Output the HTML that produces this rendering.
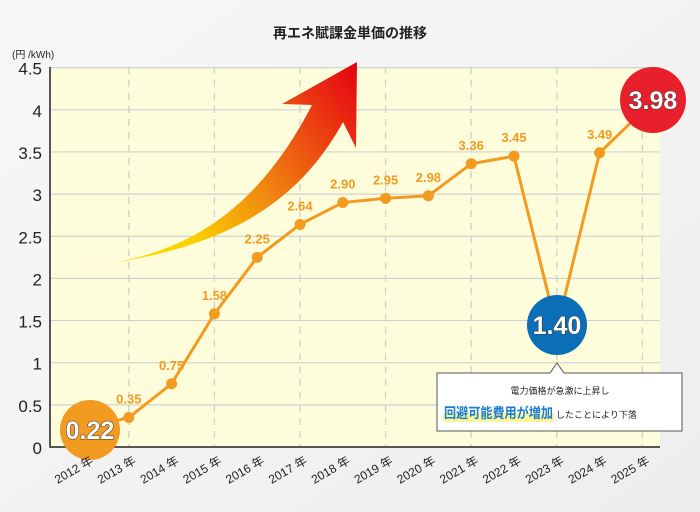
<!DOCTYPE html>
<html><head><meta charset="utf-8"><style>
body{margin:0;width:700px;height:512px;overflow:hidden;background:#f3f3f3;font-family:"Liberation Sans","Noto Sans CJK JP",sans-serif}
svg{display:block}
</style></head><body>
<svg width="700" height="512" id="c">
<defs>
<linearGradient id="ag" x1="83" y1="267" x2="357" y2="62" gradientUnits="userSpaceOnUse">
<stop offset="0" stop-color="#ffe600"/><stop offset="0.3" stop-color="#fbd000"/><stop offset="0.55" stop-color="#f08a10"/><stop offset="1" stop-color="#e60012"/></linearGradient>
<linearGradient id="bg" x1="0" y1="0" x2="1" y2="1"><stop offset="0" stop-color="#f7f7f7"/><stop offset="1" stop-color="#eeeeee"/></linearGradient>
</defs>
<rect width="700" height="512" fill="url(#bg)"/>
<text x="350" y="38" text-anchor="middle" font-size="14" font-weight="bold" fill="#222">再エネ賦課金単価の推移</text>
<text x="12" y="58" font-size="10" fill="#222">(円 /kWh)</text>
<rect x="50" y="67" width="610" height="380" fill="#fdfddc"/>
<g id="grid"></g>
<path d="M83,267 C170,258 250,225 312,105 L282,104 L357,62 L356,148 L343,122 C300,200 230,250 83,267 Z" fill="url(#ag)"/>
<g id="series"></g>
<g id="labels"></g>
<g id="xlabels"></g>
<g>
<path d="M437,373 L550,373 L557,363 L564,373 L682,373 L682,431 L437,431 Z" fill="#fff" stroke="#555" stroke-width="1"/>
<text x="560" y="394" text-anchor="middle" font-size="9" fill="#222">電力価格が急激に上昇し</text>
<rect x="443" y="413" width="111" height="9" fill="#fcf59a"/>
<text x="444" y="418" font-size="14" font-weight="bold" fill="#1a7ed0" textLength="109" lengthAdjust="spacingAndGlyphs">回避可能費用が増加</text>
<text x="556" y="418" font-size="9" fill="#222">したことにより下落</text>
</g>
</svg>
<script>
const years=["2012","2013","2014","2015","2016","2017","2018","2019","2020","2021","2022","2023","2024","2025"];
const values=[0.22,0.35,0.75,1.58,2.25,2.64,2.90,2.95,2.98,3.36,3.45,1.40,3.49,3.98];
const valueLabels=["0.22","0.35","0.75","1.58","2.25","2.64","2.90","2.95","2.98","3.36","3.45","1.40","3.49","3.98"];
const yTicks=[0,0.5,1,1.5,2,2.5,3,3.5,4,4.5];
const yTickLabels=["0","0.5","1","1.5","2","2.5","3","3.5","4","4.5"];
const NS="http://www.w3.org/2000/svg";
const X=i=>86+i*42.8, Y=v=>447-v*84.3;
function mk(tag,at,parent,txt){const e=document.createElementNS(NS,tag);for(const k in at)e.setAttribute(k,at[k]);if(txt!==undefined)e.textContent=txt;parent.appendChild(e);return e;}
const g=document.getElementById('grid');
yTicks.forEach((t,i)=>{
 if(t>0){const l=mk('line',{x1:50,x2:660,y1:Y(t),y2:Y(t),stroke:'#d2d2d2','stroke-width':1.2},g);
 
 }
 const tx=mk('text',{x:42,y:Y(t)+7,'text-anchor':'end','font-size':17,fill:'#222'},g,yTickLabels[i]);
 
 
});
years.forEach((y,i)=>{ if(i%2===1){const l=mk('line',{x1:X(i),x2:X(i),y1:67,y2:447,stroke:'#d0d0d0','stroke-width':1.3,'stroke-dasharray':'7 6'},g);
 
 }});
const ax=mk('path',{d:'M50,67 L50,447 L660,447',fill:'none',stroke:'#222','stroke-width':1.5},g);


const s=document.getElementById('series');
const line=mk('polyline',{points:values.map((v,i)=>X(i)+','+Y(v)).join(' '),fill:'none',stroke:'#f39a21','stroke-width':3},s);


const L=document.getElementById('labels');
values.forEach((v,i)=>{
 const c=mk('circle',{cx:X(i),cy:Y(v),r:5.5,fill:'#f39a21'},s);
 
 
 if(i===0||i===11||i===13){
  const big={0:[90,430,30,'#f39a21'],11:[557,325,30,'#0b6fb8'],13:[653,100,33,'#e8202b']}[i];
  const bc=mk('circle',{cx:big[0],cy:big[1],r:big[2],fill:big[3]},L);
  
  
  const bt=mk('text',{x:big[0],y:big[1]+9,'text-anchor':'middle','font-size':25,'font-weight':'bold',fill:'#fff',stroke:'#333','stroke-width':1,'paint-order':'stroke'},L,valueLabels[i]);
  
  
 } else {
  const t=mk('text',{x:X(i),y:Y(v)-14,'text-anchor':'middle','font-size':13,'font-weight':'bold',fill:'#f39a21'},L,valueLabels[i]);
  
  
 }
});
const xl=document.getElementById('xlabels');
years.forEach((y,i)=>{
 const t=mk('text',{x:X(i)+8,y:463,'text-anchor':'end','font-size':12,fill:'#222',transform:`rotate(-30 ${X(i)+8} 463)`},xl,y+' 年');
 
 
});
</script>
</body></html>
